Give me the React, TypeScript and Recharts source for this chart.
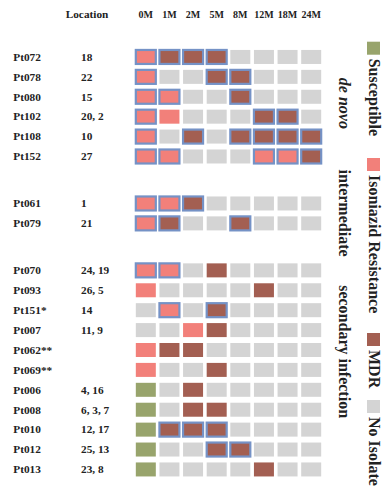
import { ScatterChart, Scatter, XAxis, YAxis, Customized } from 'recharts';

const timepoints = ['0M', '1M', '2M', '5M', '8M', '12M', '18M', '24M'];

const patients = [
  'Pt072', 'Pt078', 'Pt080', 'Pt102', 'Pt108', 'Pt152',
  'Pt061', 'Pt079',
  'Pt070', 'Pt093', 'Pt151*', 'Pt007', 'Pt062**', 'Pt069**', 'Pt006', 'Pt008', 'Pt010', 'Pt012', 'Pt013',
];

const locations = [
  '18', '22', '15', '20, 2', '10', '27',
  '1', '21',
  '24, 19', '26, 5', '14', '11, 9', '', '', '4, 16', '6, 3, 7', '12, 17', '25, 13', '23, 8',
];

const groupOf = [0, 0, 0, 0, 0, 0, 1, 1, 2, 2, 2, 2, 2, 2, 2, 2, 2, 2, 2];
const groupNames = ['de novo', 'intermediate', 'secondary infection'];
const groupLabelAt = [2.33, 7.84, 14.8];

// S = susceptible, I = isoniazid resistance, M = MDR, N = no isolate
const isolates = [
  'IMMMNNNN', 'INNMMNNN', 'IINNMNNN', 'IINNNMMN', 'INMNMMMM', 'IINNNIIM',
  'IIMNNNNN', 'IMNNMNNN',
  'IINMNNNN', 'INNNNMNN', 'NINMNNNN', 'NNIMNNNN', 'IMMNNNNN', 'INNMNNNN',
  'SNMNNNNN', 'SNMMNNNN', 'SMMMNNNN', 'SNNMMNNN', 'SNNNNMNN',
];

// 1 = outlined box
const outlined = [
  '11110000', '10011000', '11001000', '10000110', '10101111', '11000111',
  '11100000', '11001000',
  '11000000', '00000000', '01010000', '00000000', '00000000', '00000000',
  '00000000', '00000000', '01110000', '00011000', '00000000',
];

const legendNames = ['Susceptible', 'Isoniazid Resistance', 'MDR', 'No Isolate'];
const legendCodes = ['S', 'I', 'M', 'N'];

const COLORS: Record<string, string> = {
  S: '#98a46c',
  I: '#f2807a',
  M: '#a35f52',
  N: '#d4d4d4',
};
const OUTLINE = '#7592c6';
const FONT = '"Liberation Serif", "Times New Roman", serif';
const GROUP_GAP = 1.36;

const rowPos = patients.map((_, i) => i + groupOf[i] * GROUP_GAP);

const cells = isolates.flatMap((row, r) =>
  row.split('').map((code, c) => ({
    x: c,
    y: rowPos[r],
    code,
    out: outlined[r][c] === '1',
  }))
);

const CellShape = (props: any) => {
  const { cx, cy, payload } = props;
  const w = 20;
  const h = 14;
  return (
    <rect
      x={cx - w / 2}
      y={cy - h / 2}
      width={w}
      height={h}
      fill={COLORS[payload.code]}
      stroke={payload.out ? OUTLINE : 'none'}
      strokeWidth={payload.out ? 2.2 : 0}
    />
  );
};

const ColTick = ({ x, payload }: any) => (
  <text x={x} y={18.3} textAnchor="middle" fontFamily={FONT} fontWeight="bold" fontSize={10} fill="#222">
    {timepoints[payload.value]}
  </text>
);

const RowTick = ({ y, payload }: any) => {
  const i = rowPos.findIndex(p => Math.abs(p - payload.value) < 0.01);
  if (i < 0) return null;
  return (
    <g fontFamily={FONT} fontWeight="bold" fontSize={11.3} fill="#222">
      <text x={13.3} y={y + 3.8}>{patients[i]}</text>
      <text x={81} y={y + 3.8}>{locations[i]}</text>
    </g>
  );
};

const GroupTick = ({ y, payload }: any) => {
  const i = groupLabelAt.indexOf(payload.value);
  if (i < 0) return null;
  return (
    <text
      x={339}
      y={y}
      transform={`rotate(90, 339, ${y})`}
      textAnchor="middle"
      fontFamily={FONT}
      fontWeight="bold"
      fontStyle={i === 0 ? 'italic' : 'normal'}
      fontSize={16}
      fill="#222"
    >
      {groupNames[i]}
    </text>
  );
};

const legendTop = [41.7, 158, 333, 400];

const LegendBlock = () => (
  <g fontFamily={FONT} fontWeight="bold" fontSize={16} fill="#222">
    {legendNames.map((name, i) => {
      const top = legendTop[i];
      const ty = top + 17;
      return (
        <g key={name}>
          <rect x={367} y={top} width={13} height={13} fill={COLORS[legendCodes[i]]} />
          <text x={368.5} y={ty} transform={`rotate(90, 368.5, ${ty})`}>{name}</text>
        </g>
      );
    })}
  </g>
);

export default function App() {
  return (
    <div style={{ position: 'absolute', left: 0, top: 0, background: '#fff' }}>
      <ScatterChart width={382} height={496} margin={{ top: 0, right: 0, bottom: 17, left: 0 }}>
        <XAxis
          type="number"
          dataKey="x"
          orientation="top"
          domain={[-0.5, 7.5]}
          ticks={timepoints.map((_, i) => i)}
          height={47}
          axisLine={false}
          tickLine={false}
          tick={<ColTick />}
          allowDataOverflow
        />
        <YAxis
          yAxisId="rows"
          type="number"
          dataKey="y"
          reversed
          domain={[-0.5, 21.2]}
          ticks={rowPos}
          width={134}
          axisLine={false}
          tickLine={false}
          tick={<RowTick />}
          interval={0}
          allowDataOverflow
          label={() => (
            <text x={65.7} y={18.3} fontFamily={FONT} fontWeight="bold" fontSize={11.3} fill="#222">
              Location
            </text>
          )}
        />
        <YAxis
          yAxisId="groups"
          orientation="right"
          type="number"
          dataKey="y"
          reversed
          domain={[-0.5, 21.2]}
          ticks={groupLabelAt}
          width={59}
          axisLine={false}
          tickLine={false}
          tick={<GroupTick />}
          interval={0}
          allowDataOverflow
        />
        <Scatter yAxisId="rows" data={cells} shape={<CellShape />} isAnimationActive={false} />
        <Customized component={<LegendBlock />} />
      </ScatterChart>
    </div>
  );
}
